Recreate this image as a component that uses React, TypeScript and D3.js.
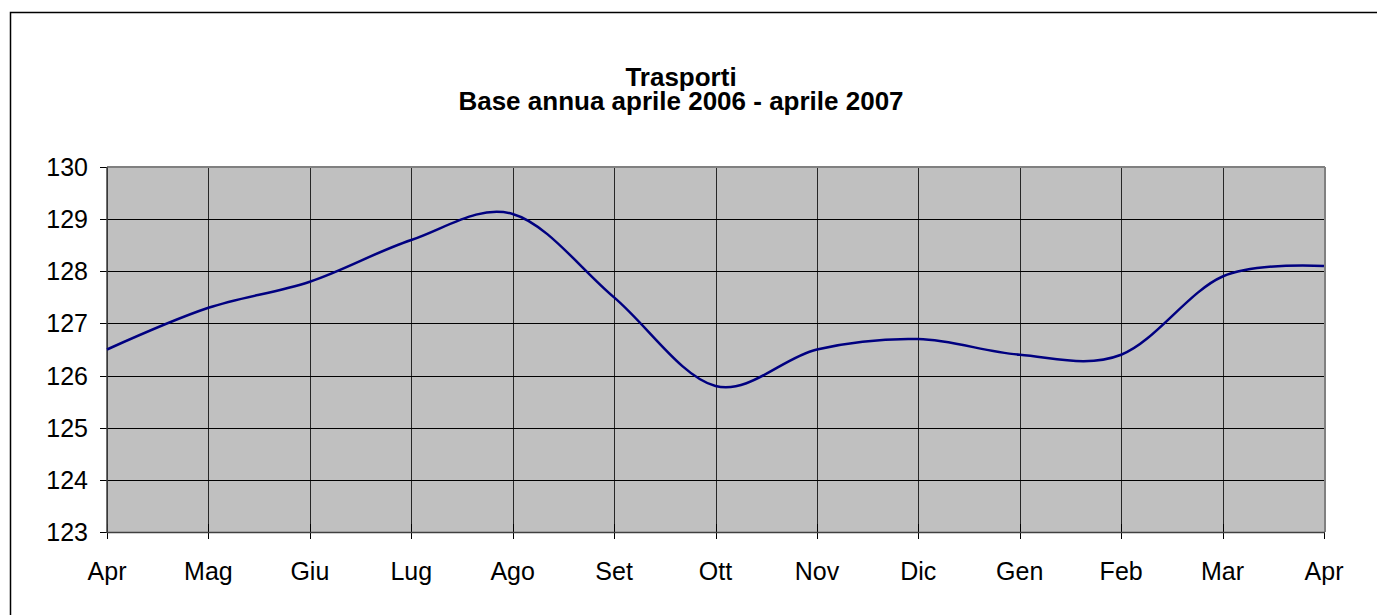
import * as d3 from 'd3'

const MONTHS = ['Apr', 'Mag', 'Giu', 'Lug', 'Ago', 'Set', 'Ott', 'Nov', 'Dic', 'Gen', 'Feb', 'Mar', 'Apr']
const VALUES = [126.5, 127.3, 127.8, 128.6, 129.1, 127.5, 125.8, 126.5, 126.7, 126.4, 126.4, 127.9, 128.1]
const Y_TICKS = [123, 124, 125, 126, 127, 128, 129, 130]
const TITLE_LINES = ['Trasporti', 'Base annua aprile 2006 - aprile 2007']

const WIDTH = 1377
const HEIGHT = 615
const PLOT = { left: 107, right: 1324, top: 167, bottom: 532 }
const FONT = '"Liberation Sans", Arial, sans-serif'
// title is centred on the whole chart area, not on the plot
const TITLE_X = 681

export default function App() {
  const x = d3
    .scaleLinear()
    .domain([0, MONTHS.length - 1])
    .range([PLOT.left, PLOT.right])
  const y = d3.scaleLinear().domain([123, 130]).range([PLOT.bottom, PLOT.top])

  const line = d3
    .line<number>()
    .x((_, i) => x(i))
    .y((d) => y(d))
    .curve(d3.curveCardinal.tension(0))

  return (
    <svg
      width={WIDTH}
      height={HEIGHT}
      style={{ position: 'absolute', left: 0, top: 0, background: '#fff' }}
      fontFamily={FONT}
    >
      {/* outer frame, runs off the right and bottom edges */}
      <rect x={10.5} y={12.5} width={WIDTH + 20} height={HEIGHT + 20} fill="none" stroke="#000" strokeWidth={1.5} />

      <text x={TITLE_X} y={86} textAnchor="middle" fontSize={26} fontWeight="bold" fill="#000">
        {TITLE_LINES.map((t, i) => (
          <tspan key={t} x={TITLE_X} dy={i === 0 ? 0 : 24}>
            {t}
          </tspan>
        ))}
      </text>

      <rect
        x={PLOT.left}
        y={PLOT.top}
        width={PLOT.right - PLOT.left}
        height={PLOT.bottom - PLOT.top}
        fill="#c0c0c0"
      />

      {Y_TICKS.map((v) => (
        <g key={v}>
          <line x1={PLOT.left} x2={PLOT.right} y1={Math.round(y(v)) + 0.5} y2={Math.round(y(v)) + 0.5} stroke="#000" />
          <line x1={100} x2={114} y1={Math.round(y(v)) + 0.5} y2={Math.round(y(v)) + 0.5} stroke="#000" />
          <text x={88} y={y(v)} dy="0.36em" textAnchor="end" fontSize={25} fill="#000">
            {v}
          </text>
        </g>
      ))}

      {MONTHS.map((m, i) => (
        <g key={i}>
          <line x1={Math.round(x(i)) + 0.5} x2={Math.round(x(i)) + 0.5} y1={PLOT.top} y2={PLOT.bottom} stroke="#000" strokeOpacity={0.8} />
          <line x1={Math.round(x(i)) + 0.5} x2={Math.round(x(i)) + 0.5} y1={524} y2={539} stroke="#000" />
          <text x={x(i)} y={580} textAnchor="middle" fontSize={25} fill="#000">
            {m}
          </text>
        </g>
      ))}

      {/* plot border: grey top/right, dark axes */}
      <line x1={PLOT.left} x2={PLOT.right + 1} y1={PLOT.top} y2={PLOT.top} stroke="#808080" strokeWidth={2} />
      <line x1={PLOT.right + 1} x2={PLOT.right + 1} y1={PLOT.top} y2={PLOT.bottom} stroke="#808080" strokeWidth={2} />
      <line x1={PLOT.left} x2={PLOT.left} y1={PLOT.top} y2={PLOT.bottom + 1} stroke="#404040" strokeWidth={1.5} />
      <line x1={PLOT.left} x2={PLOT.right + 1} y1={PLOT.bottom + 0.5} y2={PLOT.bottom + 0.5} stroke="#404040" strokeWidth={1.5} />

      <path d={line(VALUES) ?? ''} fill="none" stroke="#000080" strokeWidth={2.5} />
    </svg>
  )
}
